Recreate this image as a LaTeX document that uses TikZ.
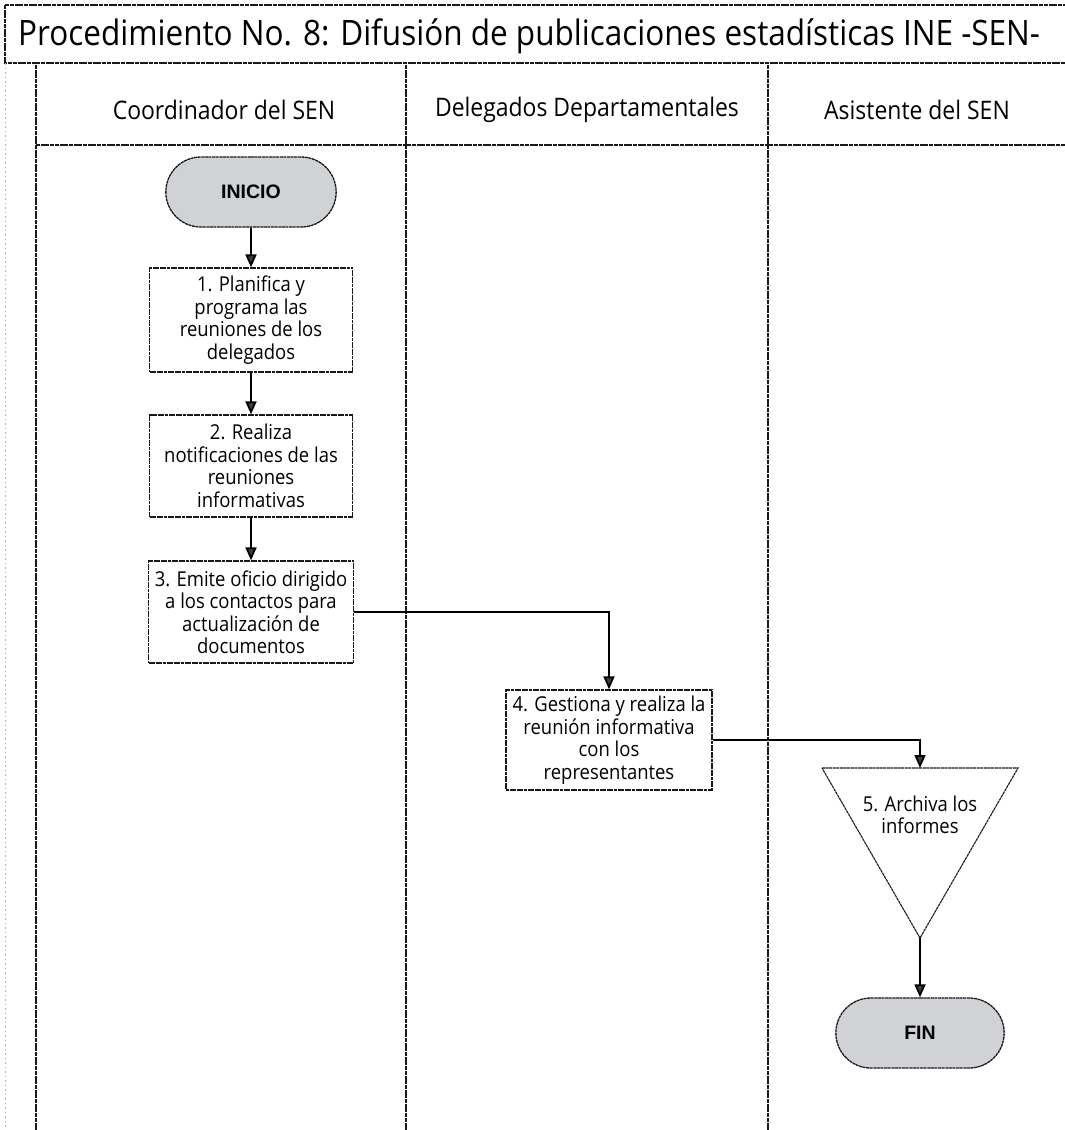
\documentclass[tikz,border=0pt]{standalone}
\usepackage{fontspec}
\setmainfont{Open Sans}[FakeStretch=0.9]
\newfontfamily\termfont{Liberation Sans}
\usetikzlibrary{arrows.meta,shapes.misc}
\definecolor{termfill}{RGB}{208,210,214}
\definecolor{ink}{RGB}{25,25,25}
\tikzset{
  lane/.style={draw=ink,line width=1.1pt,dash pattern=on 4pt off 0.7pt},
  stepbox/.style={draw=ink,line width=1.2pt,dash pattern=on 3pt off 0.6pt,fill=white,
    align=center,inner sep=2pt,font=\fontsize{20.5}{22.5}\selectfont},
  term/.style={rounded rectangle,draw=ink,line width=1.3pt,dash pattern=on 3pt off 0.6pt,
    fill=termfill,minimum width=177pt,minimum height=70pt,
    font=\termfont\bfseries\fontsize{19.5}{22}\selectfont},
  hdr/.style={font=\fontsize{25.5}{30}\selectfont},
  arr/.style={draw=black,line width=1.8pt,-{Triangle[length=13pt,width=11pt,fill=ink!85]}},
}
\begin{document}
\begin{tikzpicture}[x=1pt,y=-1pt]
\useasboundingbox (0,0) rectangle (1065,1130);
\fill[white] (0,0) rectangle (1065,1130);
% title box
\draw[lane,line width=1.3pt] (5,5) rectangle (1070,63);
\node[anchor=west,font=\fontsize{35}{42}\selectfont,inner sep=0pt] (title) at (18,36)
  {Procedimiento No. 8: Difusión de publicaciones estadísticas INE -SEN-};
\draw[gray!60,line width=0.6pt,dash pattern=on 1.5pt off 3pt] (5,63) -- (5,1130);
% lanes
\draw[lane] (36,65) -- (36,1130);
\draw[lane] (36,145) -- (1070,145);
\draw[lane] (406,65) -- (406,1130);
\draw[lane] (768,65) -- (768,1130);
\node[hdr] (h1) at (224,110) {Coordinador del SEN};
\node[hdr] (h2) at (587,110) {Delegados Departamentales};
\node[hdr] (h3) at (917,110) {Asistente del SEN};
% nodes
\node[term] (inicio) at (251,192) {INICIO};
\node[stepbox,minimum width=203pt,minimum height=104pt] (b1) at (251,320)
  {1. Planifica y\\programa las\\reuniones de los\\delegados};
\node[stepbox,minimum width=203pt,minimum height=102pt] (b2) at (251,466)
  {2. Realiza\\notificaciones de las\\reuniones\\informativas};
\node[stepbox,minimum width=205pt,minimum height=102pt] (b3) at (251,612)
  {3. Emite oficio dirigido\\a los contactos para\\actualización de\\documentos};
\node[stepbox,minimum width=206pt,minimum height=100pt] (b4) at (609,740)
  {4. Gestiona y realiza la\\reunión informativa\\con los\\representantes};
\coordinate (tl) at (822,768);
\coordinate (tr) at (1018,768);
\coordinate (tritop) at (920,768);
\coordinate (triapex) at (920,938);
\draw[draw=ink,line width=1.1pt,dash pattern=on 3pt off 0.6pt,fill=white] (tl) -- (tr) -- (triapex) -- cycle;
\node[align=center,font=\fontsize{20.5}{22.5}\selectfont] (t5) at (920,815) {5. Archiva los\\informes};
\node[term,minimum width=175pt] (fin) at (920,1033) {FIN};
% connectors
\draw[arr] (inicio) -- (b1);
\draw[arr] (b1) -- (b2);
\draw[arr] (b2) -- (b3);
\draw[arr] (b3.east) -| (b4.north);
\draw[arr] (b4.east) -| (tritop);
\draw[arr] (triapex) -- (fin.north);
\end{tikzpicture}
\end{document}
